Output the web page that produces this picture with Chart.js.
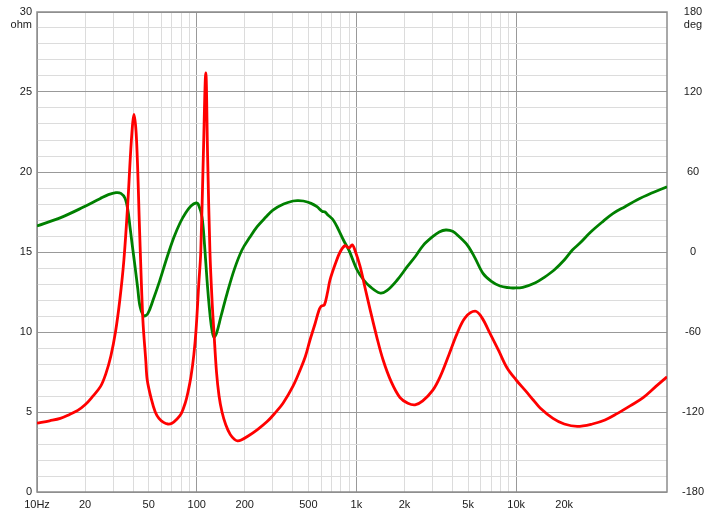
<!DOCTYPE html>
<html><head><meta charset="utf-8">
<script src="https://cdn.jsdelivr.net/npm/chart.js@4.4.0/dist/chart.umd.min.js"></script>
<style>html,body{margin:0;padding:0;background:#fff;overflow:hidden}#wrap{width:719px;height:514px;position:relative}</style>
</head><body><div id="wrap"><canvas id="c" width="719" height="514"></canvas></div>
<script>
// Impedance (ohm) curve
const impFreq = [10,12,14,16,18,20,22,25,27,29,31,33,35,37,39,40.5,42,44,46,48,49,52,55,58,62,66,70,75,80,85,88,92,96,99,103,106,110,114,117,121,125,128,133,138,144,152,162,172,180,190,210,240,276,310,347,400,443,480,512,550,580,600,630,660,683,740,790,849,899,940,980,1054,1130,1218,1340,1469,1650,1875,2100,2328,2600,3000,3340,3800,4266,4800,5535,6100,6870,7800,8780,10000,11500,12800,14130,17000,20000,24100,30000,36000,42850,52000,62400,75000,88000];
const impOhm  = [4.3,4.45,4.6,4.85,5.1,5.45,5.9,6.6,7.4,8.5,10.0,12.0,14.5,18.0,22.0,23.6,22.0,16.0,10.8,8.2,7.0,5.8,5.0,4.6,4.35,4.25,4.3,4.55,4.9,5.6,6.2,7.2,8.6,10.1,13.0,15.0,21.0,26.2,21.0,15.0,11.8,10.1,7.5,6.0,5.0,4.2,3.6,3.3,3.2,3.25,3.5,3.9,4.4,4.95,5.55,6.6,7.6,8.5,9.5,10.5,11.3,11.6,11.7,12.5,13.25,14.3,15.0,15.4,15.25,15.45,15.1,14.1,12.8,11.4,9.7,8.25,6.9,5.9,5.55,5.45,5.7,6.35,7.2,8.6,9.9,10.9,11.3,10.9,9.9,8.8,7.75,7.0,6.3,5.75,5.25,4.6,4.25,4.1,4.25,4.5,4.9,5.4,5.9,6.6,7.2];
// Phase (deg) curve
const phaseFreq = [10,14.2,19.4,24.8,28,31.2,33.5,35.5,37,38.2,39.5,41.1,42.7,44.2,46.8,49.5,53.3,58.5,65.3,72,78.6,85,92,99,103,108,112,116,120,124,128,133,142,155,172,192,215,239,270,300,350,401,430,465,520,566,610,636,660,715,770,829,900,1010,1110,1218,1403,1550,1800,2080,2350,2620,3000,3300,3630,4000,4400,4960,5500,6200,7000,7930,9000,9650,11000,13200,15000,17300,20000,22500,25000,29300,35000,40500,48000,57000,70000,88000];
const phaseDeg  = [19.5,26,33.5,40,43,44.5,44,40.5,32,19,5,-11,-27,-41,-48,-46,-36,-22,-3.75,11,21.75,29,34.5,36.75,35,26,5,-21,-42,-57,-63.75,-61,-48,-31,-13,1.5,11,19,26,31.5,36,38.25,38.5,38.25,36.5,34,30.5,30,28,24,17,9,1,-13.5,-21,-26,-30.75,-29,-21,-11,-3,5,11.5,15,16.5,15.5,11.5,5,-4,-16,-22,-25.5,-26.8,-27,-26.5,-23,-19,-13.5,-6,1.5,6.5,15,23,29,34,39,44,49];
// Axes
const gridFreqs = [10,20,30,40,50,60,70,80,90,100,200,300,400,500,600,700,800,900,1000,2000,3000,4000,5000,6000,7000,8000,9000,10000,20000];
const labelFreqs = [10,20,50,100,200,500,1000,2000,5000,10000,20000];
const labelTexts = ['10Hz','20','50','100','200','500','1k','2k','5k','10k','20k'];
const majorFreqs = [10,100,1000,10000];
const ohmRange = [0,30];
const degRange = [-180,180];

const FONT = {family:'"Liberation Sans", Arial, sans-serif', size:11};
const TXT = '#1a1a1a';
const LIGHT = '#dcdcdc';
const MAJOR = '#999999';

const framePlugin = {
  id:'frame',
  beforeDatasetsDraw(chart){
    const {ctx, chartArea:a} = chart;
    ctx.save();
    ctx.strokeStyle = '#8c8c8c'; ctx.lineWidth = 1.5;
    ctx.strokeRect(a.left, a.top, a.right-a.left, a.bottom-a.top);
    ctx.restore();
  },
  afterDraw(chart){
    const {ctx, chartArea:a} = chart;
    ctx.save();
    ctx.font = '11px "Liberation Sans", Arial, sans-serif';
    ctx.fillStyle = TXT; ctx.textBaseline = 'middle';
    ctx.textAlign = 'right';
    ctx.fillText('ohm', a.left-5, a.top+13);
    ctx.textAlign = 'center';
    const w = ctx.measureText('-180').width;
    ctx.fillText('deg', a.right+15+w/2, a.top+13);
    ctx.restore();
  }
};

new Chart(document.getElementById('c'), {
  type:'line',
  data:{datasets:[
    {label:'Impedance', data: impFreq.map((f,i)=>({x:f,y:impOhm[i]})), borderColor:'#ff0000', borderWidth:2.8, pointRadius:0, tension:0.35, yAxisID:'y'},
    {label:'Phase', data: phaseFreq.map((f,i)=>({x:f,y:phaseDeg[i]})), borderColor:'#008000', borderWidth:2.8, pointRadius:0, tension:0.35, yAxisID:'y1'}
  ]},
  options:{
    responsive:false, animation:false, devicePixelRatio:1,
    layout:{padding:{top:12,left:0,right:0,bottom:0}},
    plugins:{legend:{display:false}, tooltip:{enabled:false}},
    scales:{
      x:{type:'logarithmic', min:10, max:88000,
        afterBuildTicks(s){ s.ticks = gridFreqs.map(v=>({value:v})); },
        afterFit(s){ s.height = 22; },
        ticks:{autoSkip:false, maxRotation:0, padding:6, font:FONT, color:TXT,
          callback(v){ const i = labelFreqs.indexOf(v); return i>=0 ? labelTexts[i] : ''; }},
        grid:{drawTicks:false, lineWidth:1, color(ctx){ const v = ctx.tick && ctx.tick.value; if (v===20000) return 'rgba(0,0,0,0)'; return majorFreqs.includes(v) ? MAJOR : LIGHT; }},
        border:{display:false}
      },
      y:{type:'linear', position:'left', min:ohmRange[0], max:ohmRange[1],
        afterFit(s){ s.width = 37; s.paddingTop = 0; s.paddingBottom = 0; },
        ticks:{stepSize:1, autoSkip:false, padding:5, font:FONT, color:TXT,
          callback(v){ return v%5===0 ? String(v) : ''; }},
        grid:{drawTicks:false, lineWidth:1, color(ctx){ const v = ctx.tick && ctx.tick.value; return v%5===0 ? MAJOR : LIGHT; }},
        border:{display:false}
      },
      y1:{type:'linear', position:'right', min:degRange[0], max:degRange[1],
        afterFit(s){ s.width = 52; s.paddingTop = 0; s.paddingBottom = 0; },
        ticks:{stepSize:60, autoSkip:false, padding:15, crossAlign:'center', font:FONT, color:TXT},
        grid:{drawOnChartArea:false, drawTicks:false},
        border:{display:false}
      }
    }
  },
  plugins:[framePlugin]
});
</script></body></html>
